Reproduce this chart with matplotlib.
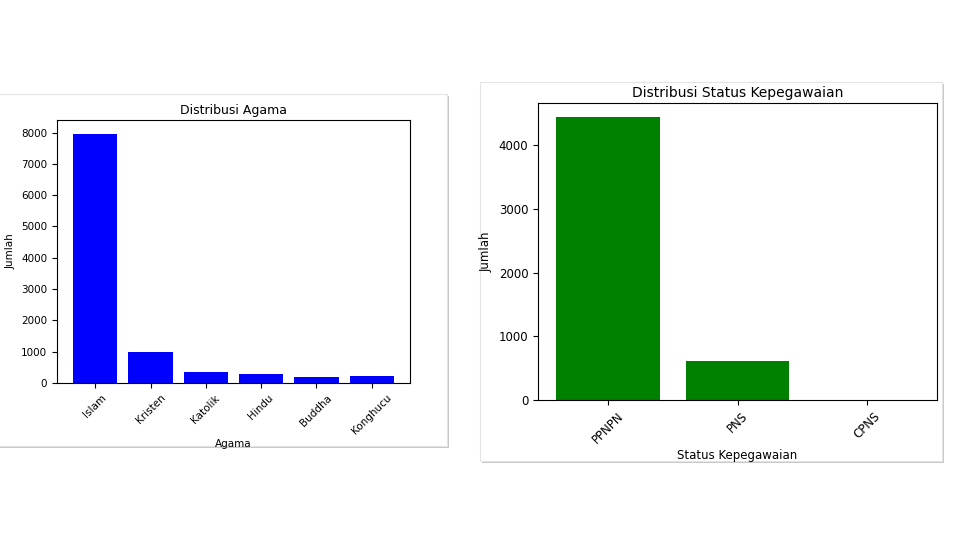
import matplotlib.pyplot as plt
from matplotlib.patches import Rectangle

agama = ["Islam", "Kristen", "Katolik", "Hindu", "Buddha", "Konghucu"]
jumlah_agama = [7950, 1000, 360, 280, 190, 230]

status = ["PPNPN", "PNS", "CPNS"]
jumlah_status = [4440, 610, 5]

W, H = 960, 540
fig = plt.figure(figsize=(9.6, 5.4), dpi=100)


def fx(x):
    return x / W


def fy(y):
    return 1 - y / H


def panel(x0, y0, x1, y1):
    # shadow then white card, kept behind the axes
    fig.patches.append(Rectangle((fx(x0 + 2), fy(y1 + 2)), fx(x1 - x0), (y1 - y0) / H,
                                 transform=fig.transFigure, facecolor="#c8c8c8", edgecolor="none", zorder=-20))
    fig.patches.append(Rectangle((fx(x0), fy(y1)), fx(x1 - x0), (y1 - y0) / H,
                                 transform=fig.transFigure, facecolor="white", edgecolor="#e4e4e4", lw=0.8, zorder=-10))


panel(-5, 94, 447, 446)
panel(480, 82, 942, 461)

ax1 = fig.add_axes([fx(57), fy(383), fx(410 - 57), (383 - 120) / H])
ax1.bar(agama, jumlah_agama, color="blue")
ax1.set_title("Distribusi Agama", fontsize=9, pad=4)
ax1.set_xlabel("Agama", fontsize=7.5, labelpad=2)
ax1.set_ylabel("Jumlah", fontsize=7.5)
ax1.tick_params(labelsize=7.5)
ax1.tick_params(axis="x", rotation=45)
ax1.set_ylim(0, 8400)
ax1.set_yticks(range(0, 8001, 1000))

ax2 = fig.add_axes([fx(538), fy(400), fx(937 - 538), (400 - 103) / H])
ax2.bar(status, jumlah_status, color="green")
ax2.set_title("Distribusi Status Kepegawaian", fontsize=10, pad=4)
ax2.set_xlabel("Status Kepegawaian", fontsize=8.5, labelpad=2)
ax2.set_ylabel("Jumlah", fontsize=8.5)
ax2.tick_params(labelsize=8.5)
ax2.tick_params(axis="x", rotation=45)
ax2.set_ylim(0, 4660)
ax2.set_yticks(range(0, 4001, 1000))

for ax in (ax1, ax2):
    ax.set_zorder(5)
    for lbl in ax.get_xticklabels():
        lbl.set_ha("center")

fig.savefig("out.png", dpi=100)
